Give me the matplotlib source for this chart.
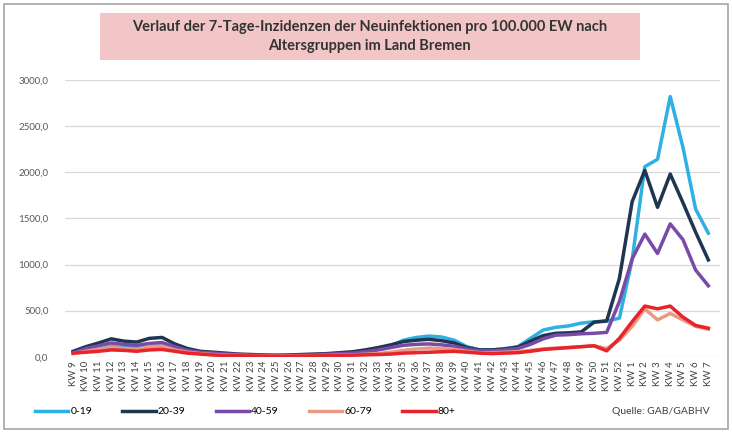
import numpy as np
import matplotlib
matplotlib.use("Agg")
import matplotlib.pyplot as plt
from matplotlib.patches import Rectangle
from matplotlib.ticker import FuncFormatter

plt.rcParams['font.family'] = ['Lato', 'DejaVu Sans']

# calendar weeks: KW 9 .. KW 52 (2020), KW 1 .. KW 7 (2021)
weeks = list(range(9, 53)) + list(range(1, 8))
week_labels = ["KW %d" % w for w in weeks]

age_0_19 = [40, 60, 80, 110, 100, 95, 120, 130, 90, 60, 40, 30, 25, 20, 15, 12, 10, 12,
            15, 20, 25, 30, 40, 50, 80, 120, 180, 210, 225, 215, 180, 110, 75, 75, 90,
            110, 200, 290, 320, 335, 365, 380, 385, 420,
            1050, 2060, 2140, 2820, 2270, 1600, 1340]
age_20_39 = [60, 110, 150, 195, 170, 160, 200, 210, 140, 90, 60, 50, 40, 30, 25, 20, 18, 20,
             25, 30, 35, 45, 55, 75, 100, 130, 165, 180, 190, 175, 150, 100, 75, 75, 85,
             105, 170, 230, 255, 260, 270, 375, 390, 850,
             1680, 2020, 1620, 1980, 1670, 1350, 1050]
age_40_59 = [45, 90, 120, 150, 135, 125, 145, 155, 110, 70, 50, 40, 30, 25, 20, 15, 15, 15,
             18, 22, 28, 35, 40, 55, 75, 100, 125, 135, 140, 130, 115, 85, 65, 65, 75,
             90, 135, 195, 235, 240, 250, 255, 265, 600,
             1060, 1330, 1120, 1440, 1270, 940, 770]
age_60_79 = [35, 60, 80, 100, 90, 80, 110, 115, 75, 50, 35, 25, 20, 15, 12, 10, 8, 8,
             10, 12, 15, 18, 22, 28, 35, 50, 70, 85, 95, 90, 80, 60, 45, 45, 50,
             55, 70, 85, 95, 100, 110, 120, 90, 180,
             330, 520, 400, 470, 400, 330, 300]
age_80 = [40, 50, 60, 75, 70, 60, 75, 80, 60, 40, 30, 20, 15, 12, 10, 8, 6, 6,
          8, 10, 12, 15, 18, 22, 25, 30, 40, 45, 50, 55, 60, 50, 40, 35, 40,
          45, 60, 80, 90, 100, 110, 120, 65, 200,
          380, 550, 520, 550, 430, 340, 310]

series = [("0-19", age_0_19, "#2fb0e3"),
          ("20-39", age_20_39, "#1f3550"),
          ("40-59", age_40_59, "#7a4aa8"),
          ("60-79", age_60_79, "#e89a84"),
          ("80+", age_80, "#e8232b")]

fig = plt.figure(figsize=(7.32, 4.32), dpi=100)
ax = fig.add_axes([0.089, 0.174, 0.895, 0.641])

x = np.arange(len(weeks))
for name, vals, col in series:
    ax.plot(x, vals, color=col, lw=2.5, label=name, solid_joinstyle='round')

ax.set_ylim(0, 3000)
ax.set_xlim(-0.63, 50.94)
ax.set_yticks(np.arange(0, 3001, 500))
ax.yaxis.set_major_formatter(FuncFormatter(lambda v, p: ("%.1f" % v).replace(".", ",")))
ax.set_xticks(x)
ax.set_xticklabels(week_labels, rotation=90, fontsize=7, color="#404040")
ax.tick_params(axis='y', labelsize=7, colors="#595959", length=0, pad=12)
ax.tick_params(axis='x', length=0, pad=3)
ax.grid(axis='y', color="#d9d9d9", lw=0.9)
ax.set_axisbelow(True)
for s in ax.spines.values():
    s.set_visible(False)

# title box
fig.patches.append(Rectangle((0.137, 0.862), 0.737, 0.108, transform=fig.transFigure,
                             facecolor="#f2c6c6", edgecolor="none"))
fig.text(0.505, 0.916, "Verlauf der 7-Tage-Inzidenzen der Neuinfektionen pro 100.000 EW nach\nAltersgruppen im Land Bremen",
         ha='center', va='center', fontsize=10.5, fontweight='bold', color="#333333",
         linespacing=1.5)

# chart border
fig.patches.append(Rectangle((0.006, 0.008), 0.988, 0.982, transform=fig.transFigure,
                             facecolor="none", edgecolor="#a6a6a6", lw=1.2))

fig.legend(loc='center left', bbox_to_anchor=(0.035, 0.047), ncol=5, frameon=False,
           fontsize=7.5, handlelength=3.2, columnspacing=2.9, handletextpad=0.2)
fig.text(0.97, 0.047, "Quelle: GAB/GABHV", ha='right', va='center', fontsize=7.5,
         color="#404040")

fig.savefig("out.png", dpi=100)
